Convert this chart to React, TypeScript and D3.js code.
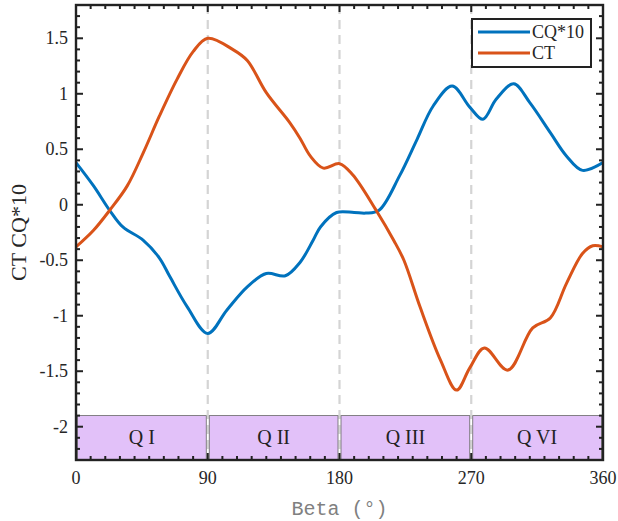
import React from "react";
import * as d3 from "d3";

const betaCQ = [0, 12, 23, 32, 46, 57, 64, 76, 90, 103, 117, 130, 143, 153, 162, 167, 178, 190, 198, 207, 221, 233, 244, 257, 269, 278, 287, 299, 310, 324, 335, 346, 360];
const valCQ = [0.38, 0.17, -0.05, -0.2, -0.32, -0.48, -0.645, -0.92, -1.16, -0.95, -0.74, -0.62, -0.64, -0.52, -0.32, -0.2, -0.07, -0.07, -0.075, -0.05, 0.26, 0.59, 0.89, 1.07, 0.88, 0.77, 0.95, 1.09, 0.92, 0.65, 0.44, 0.31, 0.38];

const betaCT = [0, 12, 23, 35, 46, 57, 69, 80, 90, 107, 117, 130, 146, 153, 160, 169, 180, 189, 205, 217, 224, 235, 249, 260, 269, 279, 295, 312, 324, 335, 346, 353, 360];
const valCT = [-0.38, -0.23, -0.05, 0.17, 0.47, 0.8, 1.13, 1.38, 1.5, 1.4, 1.3, 1.01, 0.74, 0.6, 0.44, 0.33, 0.37, 0.27, -0.05, -0.32, -0.5, -0.92, -1.4, -1.67, -1.47, -1.29, -1.49, -1.11, -1.02, -0.71, -0.44, -0.37, -0.38];

const xTicks = [0, 90, 180, 270, 360];
const yTicks = [-2, -1.5, -1, -0.5, 0, 0.5, 1, 1.5];
const quadrants = [
  { label: "Q I", from: 0, to: 90 },
  { label: "Q II", from: 90, to: 180 },
  { label: "Q III", from: 180, to: 270 },
  { label: "Q VI", from: 270, to: 360 },
];
const dividers = [90, 180, 270];
const bandRange = [-2.3, -1.9];
const seriesNames = ["CQ*10", "CT"];

const W = 618, H = 521;
const L = 76, R = 603, T = 5, B = 460;

export default function App() {
  const x = d3.scaleLinear().domain([0, 360]).range([L, R]);
  const y = d3.scaleLinear().domain([-2.3, 1.8]).range([B, T]);
  const line = d3
    .line<[number, number]>()
    .x((d) => x(d[0]))
    .y((d) => y(d[1]))
    .curve(d3.curveCatmullRom.alpha(0.5));
  const cq = line(betaCQ.map((b, i) => [b, valCQ[i]] as [number, number])) || "";
  const ct = line(betaCT.map((b, i) => [b, valCT[i]] as [number, number])) || "";

  const xMinor = d3.range(0, 361, 10);
  const yMinor = d3.range(-23, 19, 1).map((v) => v / 10);
  const serif = "'Liberation Serif', 'Times New Roman', serif";
  const blue = "#0072BD";
  const orange = "#D95319";

  return (
    <svg width={W} height={H} style={{ position: "absolute", left: 0, top: 0, background: "#fff" }}>
      <rect x={0} y={0} width={W} height={H} fill="#fff" />
      {dividers.map((d) => (
        <line key={d} x1={x(d)} x2={x(d)} y1={T} y2={B} stroke="#d4d4d4" strokeWidth={2.2} strokeDasharray="9,6" />
      ))}
      {quadrants.map((q) => (
        <g key={q.label}>
          <rect
            x={x(q.from) + 1.5}
            y={y(bandRange[1])}
            width={x(q.to) - x(q.from) - 3}
            height={y(bandRange[0]) - y(bandRange[1])}
            fill="#e2c1f9"
            stroke="#666"
            strokeWidth={0.8}
          />
          <text
            x={(x(q.from) + x(q.to)) / 2}
            y={(y(bandRange[0]) + y(bandRange[1])) / 2 + 6}
            textAnchor="middle"
            fontFamily={serif}
            fontSize={20}
            fill="#222"
          >
            {q.label}
          </text>
        </g>
      ))}
      <path d={cq} fill="none" stroke={blue} strokeWidth={3} />
      <path d={ct} fill="none" stroke={orange} strokeWidth={3} />
      {xMinor.map((v) => {
        const major = v % 90 === 0;
        const len = major ? 7 : 4;
        return (
          <g key={"xt" + v}>
            <line x1={x(v)} x2={x(v)} y1={B} y2={B - len} stroke="#222" strokeWidth={2} />
            <line x1={x(v)} x2={x(v)} y1={T} y2={T + len} stroke="#222" strokeWidth={2} />
          </g>
        );
      })}
      {yMinor.map((v) => {
        const major = yTicks.some((t) => Math.abs(t - v) < 1e-6);
        const len = major ? 7 : 4;
        return (
          <g key={"yt" + v}>
            <line x1={L} x2={L + len} y1={y(v)} y2={y(v)} stroke="#222" strokeWidth={2} />
            <line x1={R} x2={R - len} y1={y(v)} y2={y(v)} stroke="#222" strokeWidth={2} />
          </g>
        );
      })}
      <rect x={L} y={T} width={R - L} height={B - T} fill="none" stroke="#222" strokeWidth={2.4} />
      {xTicks.map((v) => (
        <text key={"xl" + v} x={x(v)} y={484} textAnchor="middle" fontFamily={serif} fontSize={18} fill="#262626">
          {v}
        </text>
      ))}
      {yTicks.map((v) => (
        <text key={"yl" + v} x={68} y={y(v) + 6} textAnchor="end" fontFamily={serif} fontSize={18} fill="#262626">
          {String(v)}
        </text>
      ))}
      <text
        x={(L + R) / 2}
        y={515}
        textAnchor="middle"
        fontFamily="'Liberation Mono', 'Courier New', monospace"
        fontSize={20}
        fill="#808080"
      >
        Beta (°)
      </text>
      <text
        transform={`translate(26, ${(T + B) / 2}) rotate(-90)`}
        textAnchor="middle"
        fontFamily={serif}
        fontSize={22}
        fill="#262626"
      >
        CT CQ*10
      </text>
      <rect x={472} y={19} width={119} height={48} fill="#fff" stroke="#222" strokeWidth={2} />
      {[blue, orange].map((c, i) => (
        <g key={"lg" + i}>
          <line x1={478} x2={530} y1={32 + i * 21} y2={32 + i * 21} stroke={c} strokeWidth={3} />
          <text x={532} y={38 + i * 21} fontFamily={serif} fontSize={18} fill="#262626">
            {seriesNames[i]}
          </text>
        </g>
      ))}
    </svg>
  );
}
